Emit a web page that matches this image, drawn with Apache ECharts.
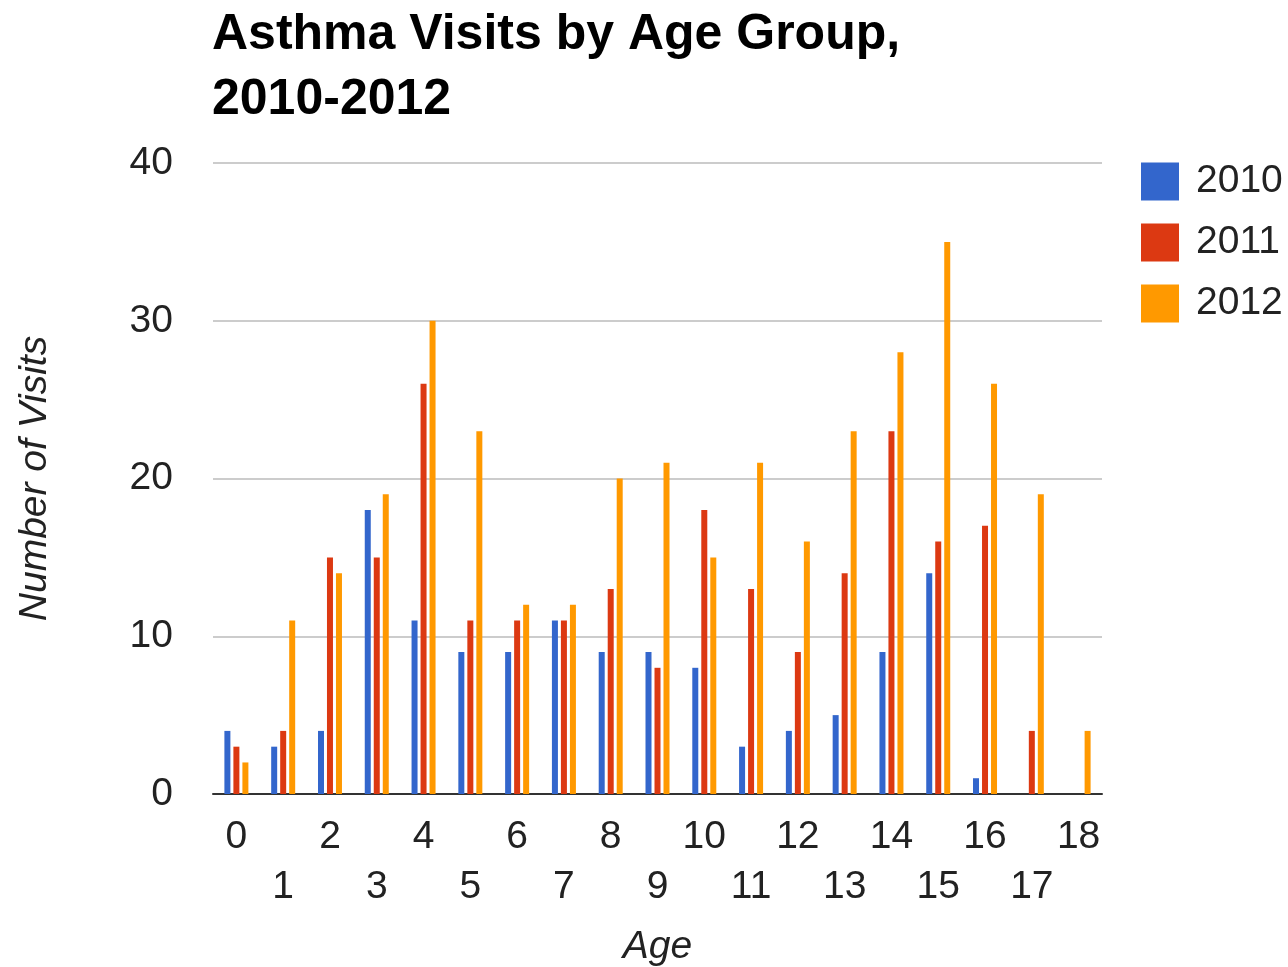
<!DOCTYPE html>
<html>
<head>
<meta charset="utf-8">
<script src="https://cdn.jsdelivr.net/npm/echarts@6/dist/echarts.min.js"></script>
<style>
  html, body { margin: 0; padding: 0; background: #fff; }
  #chart { width: 1288px; height: 967px; }
</style>
</head>
<body>
<div id="chart"></div>
<script>
// Asthma visits per age, one series per year
const ages = ['0','1','2','3','4','5','6','7','8','9','10','11','12','13','14','15','16','17','18'];
const visits2010 = [4, 3, 4, 18, 11, 9, 9, 11, 9, 9, 8, 3, 4, 5, 9, 14, 1, 0, 0];
const visits2011 = [3, 4, 15, 15, 26, 11, 11, 11, 13, 8, 18, 13, 9, 14, 23, 16, 17, 4, 0];
const visits2012 = [2, 11, 14, 19, 30, 23, 12, 12, 20, 21, 15, 21, 16, 23, 28, 35, 26, 19, 4];
const yearNames = ['2010', '2011', '2012'];
const yearColors = ['#3366cc', '#dc3912', '#ff9900'];

const baseFont = "'Liberation Sans', Arial, sans-serif";
const textColor = '#222222';

const chart = echarts.init(document.getElementById('chart'));

const seriesData = [visits2010, visits2011, visits2012];

chart.setOption({
  animation: false,
  backgroundColor: '#ffffff',
  title: {
    text: 'Asthma Visits by Age Group,\n2010-2012',
    left: 212,
    top: 3,
    padding: 0,
    textStyle: {
      fontFamily: baseFont,
      fontWeight: 'bold',
      fontSize: 50,
      lineHeight: 65,
      color: '#000000'
    }
  },
  legend: {
    orient: 'vertical',
    left: 1141,
    top: 162,
    padding: 0,
    itemWidth: 38,
    itemHeight: 38,
    itemGap: 22,
    icon: 'rect',
    textStyle: { fontFamily: baseFont, fontSize: 39, color: textColor, padding: [0, 0, 0, 12] },
    data: yearNames
  },
  grid: { left: 213, right: 186, top: 163, bottom: 173, containLabel: false, outerBoundsMode: 'none' },
  xAxis: {
    type: 'category',
    data: ages,
    name: 'Age',
    nameLocation: 'middle',
    nameGap: 134,
    nameTextStyle: { fontFamily: baseFont, fontStyle: 'italic', fontSize: 39, color: textColor },
    axisLine: { lineStyle: { color: '#333333', width: 2 } },
    axisTick: { show: false },
    axisLabel: {
      interval: 0,
      margin: 18,
      fontFamily: baseFont,
      fontSize: 39,
      lineHeight: 50,
      color: textColor,
      formatter: function (v, i) { return i % 2 === 1 ? '\n' + v : v; }
    }
  },
  yAxis: {
    type: 'value',
    min: 0,
    max: 40,
    interval: 10,
    name: 'Number of Visits',
    nameLocation: 'middle',
    nameGap: 158,
    nameRotate: 90,
    nameTextStyle: { fontFamily: baseFont, fontStyle: 'italic', fontSize: 39, color: textColor },
    axisLine: { show: false },
    axisTick: { show: false },
    splitLine: { lineStyle: { color: '#cccccc', width: 2 } },
    axisLabel: { margin: 40, fontFamily: baseFont, fontSize: 39, color: textColor }
  },
  series: yearNames.map(function (name, k) {
    return {
      name: name,
      type: 'bar',
      data: seriesData[k],
      barWidth: 6,
      barGap: '50%',
      itemStyle: { color: yearColors[k] }
    };
  })
});
</script>
</body>
</html>
